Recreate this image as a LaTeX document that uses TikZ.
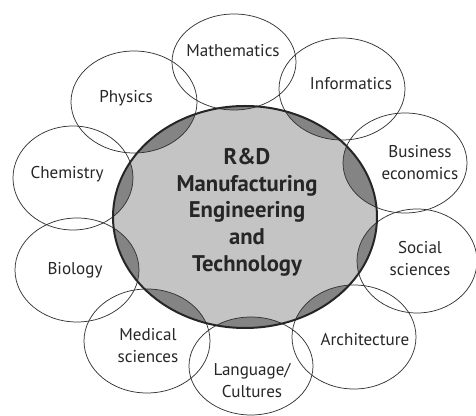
\documentclass[tikz,border=0pt]{standalone}
\usepackage{fontspec}
\setmainfont{PT Sans}
\usetikzlibrary{shapes.geometric}
\definecolor{coregray}{RGB}{196,196,196}
\definecolor{lensgray}{RGB}{132,132,132}
\tikzset{
  core/.style={ellipse, fill=coregray, inner sep=0pt, minimum width=198pt, minimum height=166.5pt},
  rim/.style={draw=black!85, line width=1.5pt},
  disc/.style={ellipse, draw=black!80, line width=0.55pt, inner sep=0pt},
  lbl/.style={align=center, text=black!85, font=\fontsize{12.8}{16.5}\selectfont},
  corelbl/.style={align=center, text=black!85, font=\bfseries\fontsize{17}{20}\selectfont}
}
\begin{document}
\begin{tikzpicture}[x=0.75pt,y=-0.75pt]
\useasboundingbox (0,0) rectangle (476,416);
% core field
\node[core] (core) at (245,217) {};
% overlaps with the core
\begin{scope}
  \clip (245,217) ellipse [x radius=132, y radius=111];
  \foreach \cx/\cy/\rx/\ry in {234/62/62/48, 342/89/63/51, 134/102/63/51, 73/178/60/52,
      77/270/62/52, 147/341/63/52, 251/366/62/49, 354/337/62/52, 417/261/60/52, 405/163/62/50}
    \fill[lensgray] (\cx,\cy) ellipse [x radius=\rx, y radius=\ry];
\end{scope}
% disciplines
\foreach \nm/\cx/\cy/\rx/\ry/\tx/\ty/\txt in {
    math/234/62/62/48/233/51/{Mathematics},
    info/342/89/63/51/351/84/{Informatics},
    phys/134/102/63/51/126/98/{Physics},
    chem/73/178/60/52/67/174/{Chemistry},
    bio/77/270/62/52/75/270/{Biology},
    med/147/341/63/52/148/346/{Medical\\sciences},
    lang/251/366/62/49/252/381/{Language/\\Cultures},
    arch/354/337/62/52/365/340/{Architecture},
    soc/417/261/60/52/420/259/{Social\\sciences},
    bus/405/163/62/50/420/163/{Business\\economics}}
{
  \node[disc, minimum width=1.5*\rx pt, minimum height=1.5*\ry pt] (\nm) at (\cx,\cy) {};
  \node[lbl] (\nm-txt) at (\tx,\ty) {\txt};
}
\draw[rim] (core.center) ellipse [x radius=132, y radius=111];
\node[corelbl] (core-txt) at (247,212) {R\&D\\Manufacturing\\Engineering\\and\\Technology};
\end{tikzpicture}
\end{document}
